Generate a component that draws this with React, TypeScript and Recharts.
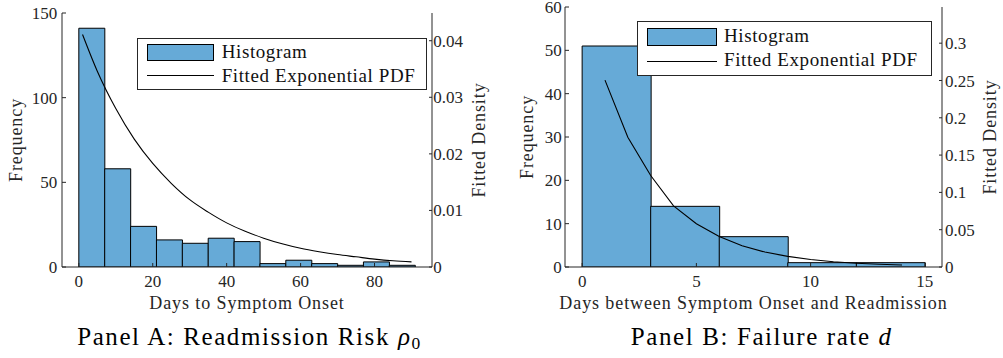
import React from 'react';
import { ComposedChart, Bar, Line, XAxis, YAxis } from 'recharts';

// ---------- Panel A data ----------
const binCentersA = [3.5, 10.5, 17.5, 24.5, 31.5, 38.5, 45.5, 52.5, 59.5, 66.5, 73.5, 80.5, 87.5];
const countsA = [141, 58, 24, 16, 14, 17, 15, 2, 4, 2, 1, 3, 1];
const curveXA = [1, 5, 10, 15, 20, 25, 30, 35, 40, 45, 50, 55, 60, 65, 70, 75, 80, 85, 90];
const curveDensityA = [0.0411, 0.0346, 0.028, 0.0226, 0.0183, 0.0148, 0.0119, 0.0097, 0.0078, 0.0063, 0.0051, 0.0041, 0.0033, 0.0027, 0.0022, 0.0018, 0.0014, 0.0011, 0.0009];
const xTicksA = [0, 20, 40, 60, 80];
const freqTicksA = [0, 50, 100, 150];
const densTicksA = [0, 0.01, 0.02, 0.03, 0.04];

// ---------- Panel B data ----------
const binCentersB = [1.5, 4.5, 7.5, 10.5, 13.5];
const countsB = [51, 14, 7, 1, 1];
const curveXB = [1, 2, 3, 4, 5, 6, 7, 8, 9, 10, 11, 12, 13, 14];
const curveDensityB = [0.2505, 0.174, 0.1226, 0.082, 0.058, 0.041, 0.0285, 0.02, 0.0142, 0.01, 0.007, 0.0051, 0.0036, 0.0026];
const xTicksB = [0, 5, 10, 15];
const freqTicksB = [0, 10, 20, 30, 40, 50, 60];
const densTicksB = [0, 0.05, 0.1, 0.15, 0.2, 0.25, 0.3];

const legendNames = ['Histogram', 'Fitted Exponential PDF'];

const FONT = '"Liberation Serif", "Times New Roman", serif';
const AXIS = '#262626';
const BAR_FILL = '#66AAD7';

type PanelProps = {
  left: number;
  width: number;
  top: number;
  leftW: number;
  rightW: number;
  centers: number[];
  counts: number[];
  curveX: number[];
  curveY: number[];
  curveType: 'monotone' | 'linear';
  xDomain: [number, number];
  xTicks: number[];
  freqDomain: [number, number];
  freqTicks: number[];
  densDomain: [number, number];
  densTicks: number[];
  leftTickMargin: number;
  rightTickMargin: number;
  freqLabelOffset: number;
  densLabelOffset: number;
  xLabel: string;
  legend: { left: number; top: number; width: number; height: number; patchLeft: number; patchTop: number; patchW: number; patchH: number; lineTop: number; textLeft: number; textTop1: number; textTop2: number };
  titleCenter: number;
  title: React.ReactNode;
};

const tickStyle = { fontSize: 17, fontFamily: FONT, fill: AXIS };
const labelStyle = { fontSize: 18, fontFamily: FONT, fill: AXIS, letterSpacing: '0.9px' };

function LegendBox({ g }: { g: PanelProps['legend'] }) {
  const textStyle: React.CSSProperties = {
    position: 'absolute',
    left: g.textLeft,
    fontFamily: FONT,
    fontSize: 19,
    lineHeight: '19px',
    letterSpacing: '0.6px',
    color: '#111',
    whiteSpace: 'nowrap',
  };
  return (
    <div
      style={{
        position: 'absolute',
        left: g.left,
        top: g.top,
        width: g.width,
        height: g.height,
        boxSizing: 'border-box',
        border: `1px solid ${AXIS}`,
        background: '#fff',
      }}
    >
      <div
        style={{
          position: 'absolute',
          left: g.patchLeft,
          top: g.patchTop,
          width: g.patchW,
          height: g.patchH,
          boxSizing: 'border-box',
          background: BAR_FILL,
          border: '1px solid #000',
        }}
      />
      <div
        style={{
          position: 'absolute',
          left: g.patchLeft,
          top: g.lineTop,
          width: g.patchW,
          height: 1,
          background: '#000',
        }}
      />
      <span style={{ ...textStyle, top: g.textTop1 }}>{legendNames[0]}</span>
      <span style={{ ...textStyle, top: g.textTop2 }}>{legendNames[1]}</span>
    </div>
  );
}

function Panel(p: PanelProps) {
  const barData = p.centers.map((x, i) => ({ x, count: p.counts[i] }));
  const lineData = p.curveX.map((x, i) => ({ x, density: p.curveY[i] }));
  return (
    <div style={{ position: 'absolute', left: p.left, top: 0, width: p.width, height: 358 }}>
      <ComposedChart
        width={p.width}
        height={358}
        data={barData}
        margin={{ top: p.top, right: 0, bottom: 67, left: 0 }}
        barCategoryGap={0}
        barGap={0}
      >
        <XAxis
          xAxisId="bars"
          dataKey="x"
          type="number"
          domain={p.xDomain}
          ticks={p.xTicks}
          allowDataOverflow
          interval={0}
          height={24}
          tickSize={-4}
          tickMargin={12}
          axisLine={{ stroke: AXIS }}
          tickLine={{ stroke: AXIS }}
          tick={tickStyle}
          label={{ value: p.xLabel, position: 'bottom', offset: 5, ...labelStyle, style: labelStyle }}
        />
        <XAxis
          xAxisId="top"
          orientation="top"
          type="number"
          domain={p.xDomain}
          ticks={p.xTicks}
          allowDataOverflow
          interval={0}
          height={0}
          tickSize={-4}
          tickFormatter={() => ''}
          axisLine={{ stroke: AXIS }}
          tickLine={{ stroke: AXIS }}
          tick={tickStyle}
        />
        <XAxis xAxisId="curve" dataKey="x" type="number" domain={p.xDomain} allowDataOverflow hide />
        <YAxis
          yAxisId="left"
          type="number"
          width={p.leftW}
          domain={p.freqDomain}
          ticks={p.freqTicks}
          allowDataOverflow
          interval={0}
          tickSize={-4}
          tickMargin={p.leftTickMargin}
          axisLine={{ stroke: AXIS }}
          tickLine={{ stroke: AXIS }}
          tick={tickStyle}
          label={{
            value: 'Frequency',
            angle: -90,
            position: 'insideLeft',
            offset: p.freqLabelOffset,
            textAnchor: 'middle',
            ...labelStyle,
            style: { ...labelStyle, textAnchor: 'middle' },
          }}
        />
        <YAxis
          yAxisId="right"
          orientation="right"
          type="number"
          width={p.rightW}
          domain={p.densDomain}
          ticks={p.densTicks}
          allowDataOverflow
          interval={0}
          tickSize={-3}
          tickMargin={p.rightTickMargin}
          axisLine={{ stroke: AXIS }}
          tickLine={{ stroke: AXIS }}
          tick={tickStyle}
          label={{
            value: 'Fitted Density',
            angle: -90,
            position: 'insideLeft',
            offset: p.densLabelOffset,
            textAnchor: 'middle',
            ...labelStyle,
            style: { ...labelStyle, textAnchor: 'middle' },
          }}
        />
        <Bar
          xAxisId="bars"
          yAxisId="left"
          dataKey="count"
          name={legendNames[0]}
          fill={BAR_FILL}
          stroke="#000"
          strokeWidth={1}
          isAnimationActive={false}
        />
        <Line
          xAxisId="curve"
          yAxisId="right"
          data={lineData}
          dataKey="density"
          name={legendNames[1]}
          type={p.curveType}
          stroke="#000"
          strokeWidth={1.1}
          dot={false}
          activeDot={false}
          isAnimationActive={false}
        />
      </ComposedChart>
      <LegendBox g={p.legend} />
      <div
        style={{
          position: 'absolute',
          left: p.titleCenter,
          top: 324,
          transform: 'translateX(-50%)',
          fontFamily: FONT,
          fontSize: 25,
          lineHeight: '25px',
          letterSpacing: '1.6px',
          color: '#000',
          whiteSpace: 'nowrap',
        }}
      >
        {p.title}
      </div>
    </div>
  );
}

export default function App() {
  return (
    <div style={{ position: 'absolute', left: 0, top: 0, width: 1003, height: 358, background: '#fff', overflow: 'hidden' }}>
      <Panel
        left={0}
        width={500}
        top={13}
        leftW={62}
        rightW={68}
        centers={binCentersA}
        counts={countsA}
        curveX={curveXA}
        curveY={curveDensityA}
        curveType="monotone"
        xDomain={[-4.55, 95.55]}
        xTicks={xTicksA}
        freqDomain={[0, 150]}
        freqTicks={freqTicksA}
        densDomain={[0, 0.0449]}
        densTicks={densTicksA}
        leftTickMargin={8.7}
        rightTickMargin={4.3}
        freqLabelOffset={16}
        densLabelOffset={46.5}
        xLabel="Days to Symptom Onset"
        legend={{ left: 137, top: 38, width: 290, height: 52, patchLeft: 8.7, patchTop: 5, patchW: 67.3, patchH: 17, lineTop: 35.7, textLeft: 83.7, textTop1: 2.8, textTop2: 26.5 }}
        titleCenter={249.5}
        title={<>Panel A: Readmission Risk <span style={{ fontStyle: 'italic' }}>ρ</span><span style={{ fontSize: '0.7em', position: 'relative', top: 4 }}>0</span></>}
      />
      <Panel
        left={500}
        width={503}
        top={7}
        leftW={65}
        rightW={61}
        centers={binCentersB}
        counts={countsB}
        curveX={curveXB}
        curveY={curveDensityB}
        curveType="linear"
        xDomain={[-0.75, 15.75]}
        xTicks={xTicksB}
        freqDomain={[0, 60]}
        freqTicks={freqTicksB}
        densDomain={[0, 0.3485]}
        densTicks={densTicksB}
        leftTickMargin={7.3}
        rightTickMargin={6}
        freqLabelOffset={27}
        densLabelOffset={48}
        xLabel="Days between Symptom Onset and Readmission"
        legend={{ left: 137.3, top: 21, width: 295, height: 55.3, patchLeft: 8.4, patchTop: 6, patchW: 70, patchH: 18, lineTop: 38.7, textLeft: 85.7, textTop1: 3.8, textTop2: 27.8 }}
        titleCenter={261.7}
        title={<>Panel B: Failure rate <span style={{ fontStyle: 'italic' }}>d</span></>}
      />
    </div>
  );
}
